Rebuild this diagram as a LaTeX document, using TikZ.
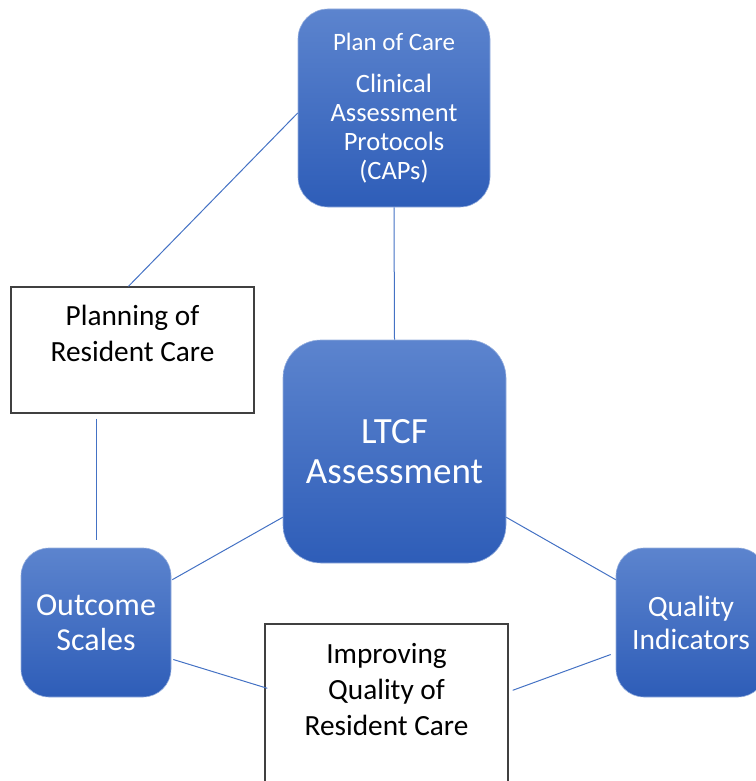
\documentclass[tikz,border=0pt]{standalone}
\usepackage{fontspec}
\setmainfont{Carlito}
\usetikzlibrary{positioning}
\usetikzlibrary{calc}
\definecolor{boxtop}{RGB}{92,132,206}
\definecolor{boxbottom}{RGB}{46,93,184}
\definecolor{boxedge}{RGB}{150,175,222}
\definecolor{linkblue}{RGB}{68,114,196}
\definecolor{rimgray}{RGB}{64,64,64}
\tikzset{bluebox/.style={shape=rectangle, rounded corners=30pt, top color=boxtop, bottom color=boxbottom, draw=boxedge, line width=0.6pt, text=white, align=center, inner sep=0pt}}
\tikzset{whitebox/.style={shape=rectangle, draw=rimgray, line width=1.4pt, fill=white, inner sep=0pt}}
\tikzset{link/.style={draw=linkblue, line width=1pt}}

\begin{document}
\begin{tikzpicture}[x=1pt,y=-1pt]
		\useasboundingbox (0,0) rectangle (755,781);
		\node[bluebox, font=\fontsize{26.5}{29}\selectfont, minimum width=192pt, minimum height=198pt] (plan) at (394,108) {{\fontsize{25}{25}\selectfont Plan of Care}\\[13pt]Clinical\\Assessment\\Protocols\\(CAPs)};
		\node[bluebox, font=\fontsize{37}{40}\selectfont, rounded corners=38pt, minimum width=223pt, minimum height=223pt] (ltcf) at (394.5,451.5) {LTCF\\Assessment};
		\node[bluebox, font=\fontsize{32}{35}\selectfont, rounded corners=28pt, minimum width=150pt, minimum height=149pt] (outcome) at (96,622.5) {Outcome\\Scales};
		\node[bluebox, font=\fontsize{29.5}{33}\selectfont, rounded corners=28pt, minimum width=150pt, minimum height=149pt] (quality) at (691,622.5) {Quality\\Indicators};
		\node[whitebox, minimum width=243pt, minimum height=126pt] (planning) at (132.5,350) {};
		\node[align=center, font=\fontsize{29.3}{36}\selectfont, below=15pt of planning.north] (planningtext) {Planning of\\Resident Care};
		\node[whitebox, minimum width=243pt, minimum height=190pt] (improving) at (386.5,719) {};
		\node[align=center, font=\fontsize{29.3}{36}\selectfont, below=16pt of improving.north] (improvingtext) {Improving\\Quality of\\Resident Care};
		\path[link] ([yshift=-5pt]plan.west) edge ([xshift=-4pt]planning.north);
		\path[link] (plan.south) edge (ltcf.north);
		\path[link] ([yshift=-5pt]outcome.north |- planning.south) edge ([yshift=8pt]outcome.north);
		\path[link] ([yshift=46pt]ltcf.south west) edge ([xshift=1pt,yshift=-32pt]outcome.north east);
		\path[link] ([yshift=46pt]ltcf.south east) edge ([yshift=-32pt]quality.north west);
		\path[link] ([xshift=2pt,yshift=-37pt]outcome.east) edge ([xshift=3pt,yshift=-65pt]improving.north west);
		\path[link] ([xshift=4pt,yshift=-67pt]improving.north east) edge ([xshift=-5pt,yshift=-32pt]quality.west);
	\end{tikzpicture}
\end{document}
